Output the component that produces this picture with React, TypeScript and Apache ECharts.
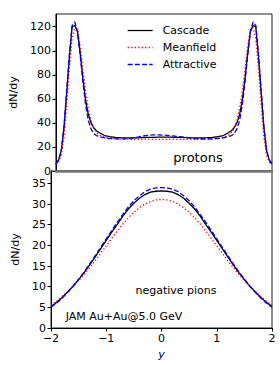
import React, { useEffect, useRef } from "react";
import * as echarts from "echarts";

const protonRapidity = [
  -2.0, -1.95, -1.9, -1.85, -1.8, -1.75, -1.7, -1.65, -1.6, -1.55, -1.5, -1.45, -1.4, -1.35, -1.3, -1.25, -1.2,
  -1.1, -1.0, -0.9, -0.8, -0.7, -0.6, -0.5, -0.4, -0.3, -0.2, -0.1,
  0,
  0.1, 0.2, 0.3, 0.4, 0.5, 0.6, 0.7, 0.8, 0.9, 1.0, 1.1,
  1.2, 1.25, 1.3, 1.35, 1.4, 1.45, 1.5, 1.55, 1.6, 1.65, 1.7, 1.75, 1.8, 1.85, 1.9, 1.95, 2.0,
];
const protonCascade = [
  6, 9, 17, 36, 65, 95, 120, 121, 116, 98, 77, 59, 47, 40, 36, 33.5, 32,
  29.5, 28.5, 28, 27.7, 27.5, 27.5, 27.6, 27.8, 28, 28, 28.1,
  28.1,
  28.1, 28, 28, 27.8, 27.6, 27.5, 27.5, 27.7, 28, 28.5, 29.5,
  32, 33.5, 36, 40, 47, 59, 77, 98, 116, 121, 120, 95, 65, 36, 17, 9, 6.5,
];
const protonMeanfield = [
  5.5, 7.5, 13, 28, 55, 85, 110, 119, 118, 104, 84, 66, 52, 42, 35.5, 32, 30,
  28, 27.2, 26.8, 26.6, 26.5, 26.4, 26.3, 26.3, 26.3, 26.3, 26.3,
  26.3,
  26.3, 26.3, 26.3, 26.3, 26.3, 26.4, 26.5, 26.6, 26.8, 27.2, 28,
  30, 32, 35.5, 42, 52, 66, 84, 104, 118, 119, 110, 85, 55, 28, 13, 7.5, 5.5,
];
const protonAttractive = [
  5.5, 9, 17, 37, 67, 97, 121, 124, 116, 96, 74, 55, 42, 35, 31, 29.5, 28.8,
  27.5, 27, 26.8, 26.7, 26.8, 27.2, 28, 29, 29.7, 30, 30,
  29.8,
  29.5, 29, 28.5, 28, 27.3, 26.8, 26.6, 26.6, 26.8, 27, 27.5,
  28.8, 29.5, 31, 35, 42, 55, 74, 96, 116, 124, 121, 97, 67, 37, 17, 9, 5.5,
];

const pionRapidity = [
  -2.0, -1.9, -1.8, -1.7, -1.6, -1.5, -1.4, -1.3, -1.2, -1.1, -1.0, -0.9, -0.8, -0.7, -0.6, -0.5, -0.4, -0.3, -0.2, -0.1,
  0,
  0.1, 0.2, 0.3, 0.4, 0.5, 0.6, 0.7, 0.8, 0.9, 1.0, 1.1, 1.2, 1.3, 1.4, 1.5, 1.6, 1.7, 1.8, 1.9, 2.0,
];
const pionCascade = [
  5.2, 6.2, 7.4, 8.7, 10.1, 11.7, 13.4, 15.3, 17.2, 19.2, 21.2, 23.2, 25.1, 27.1, 28.8, 30.2, 31.4, 32.3, 32.9, 33.1,
  33.2,
  33.1, 32.9, 32.3, 31.4, 30.2, 28.8, 27.1, 25.1, 23.2, 21.2, 19.2, 17.2, 15.3, 13.4, 11.7, 10.1, 8.7, 7.4, 6.2, 5.2,
];
const pionMeanfield = [
  5.5, 6.5, 7.6, 8.8, 10.1, 11.5, 13.0, 14.6, 16.3, 18.1, 19.9, 21.7, 23.5, 25.2, 26.7, 28.0, 29.1, 30.0, 30.6, 31.0,
  31.1,
  31.0, 30.6, 30.0, 29.1, 28.0, 26.7, 25.2, 23.5, 21.7, 19.9, 18.1, 16.3, 14.6, 13.0, 11.5, 10.1, 8.8, 7.6, 6.5, 5.5,
];
const pionAttractive = [
  5.0, 6.0, 7.2, 8.6, 10.1, 11.8, 13.6, 15.5, 17.5, 19.5, 21.6, 23.6, 25.6, 27.5, 29.3, 30.8, 32.0, 33.0, 33.6, 33.9,
  34.0,
  33.9, 33.6, 33.0, 32.0, 30.8, 29.3, 27.5, 25.6, 23.6, 21.6, 19.5, 17.5, 15.5, 13.6, 11.8, 10.1, 8.6, 7.2, 6.0, 5.0,
];

const seriesNames = ["Cascade", "Meanfield", "Attractive"];
const xTickLabels = ["\u22122", "\u22121", "0", "1", "2"];
const panelLabels = ["protons", "negative pions", "JAM Au+Au@5.0 GeV"];

const FONT = "DejaVu Sans";

const pair = (xs: number[], ys: number[]) => xs.map((x, i) => [x, ys[i]]);

export default function App() {
  const ref = useRef<HTMLDivElement>(null);
  useEffect(() => {
    if (!ref.current) return;
    const chart = echarts.init(ref.current, undefined, { renderer: "svg" });
    const styles = [
      { color: "#000000", type: "solid" as any },
      { color: "#ff0000", type: [1.3, 2.2] as any },
      { color: "#0000ff", type: [5, 2.2] as any },
    ];
    const protonData = [protonCascade, protonMeanfield, protonAttractive];
    const pionData = [pionCascade, pionMeanfield, pionAttractive];
    const series: any[] = [];
    seriesNames.forEach((name, i) => {
      series.push({
        name,
        type: "line",
        xAxisIndex: 0,
        yAxisIndex: 0,
        symbol: "none",
        data: pair(protonRapidity, protonData[i]),
        lineStyle: { color: styles[i].color, width: 1.3, type: styles[i].type },
        itemStyle: { color: styles[i].color },
        z: 2 + i,
      });
    });
    seriesNames.forEach((name, i) => {
      series.push({
        name,
        type: "line",
        xAxisIndex: 1,
        yAxisIndex: 1,
        symbol: "none",
        data: pair(pionRapidity, pionData[i]),
        lineStyle: { color: styles[i].color, width: 1.3, type: styles[i].type },
        itemStyle: { color: styles[i].color },
        z: 2 + i,
      });
    });
    const xFmt = (v: number) => xTickLabels[Math.round(v) + 2];
    const labelStyle = { color: "#000", fontSize: 11, fontFamily: FONT };
    const option: any = {
      animation: false,
      grid: [
        { left: 51, top: 14, width: 221, height: 157, show: true, borderColor: "#222", borderWidth: 1 },
        { left: 51, top: 171, width: 221, height: 157, show: true, borderColor: "#222", borderWidth: 1 },
      ],
      xAxis: [
        {
          gridIndex: 0, type: "value", min: -2, max: 2, interval: 1,
          axisLabel: { show: false }, axisTick: { show: false }, splitLine: { show: false },
          axisLine: { show: true, onZero: false, lineStyle: { color: "#777", width: 2.5 } }, z: 10,
        },
        {
          gridIndex: 1, type: "value", min: -2, max: 2, interval: 1,
          axisLabel: { ...labelStyle, formatter: xFmt, margin: 5 },
          axisTick: { length: 3.5, lineStyle: { color: "#000" } },
          axisLine: { onZero: false, lineStyle: { color: "#000", width: 1 } },
          splitLine: { show: false },
          name: "y", nameLocation: "middle", nameGap: 21,
          nameTextStyle: { ...labelStyle, fontStyle: "italic" },
        },
      ],
      yAxis: [
        {
          gridIndex: 0, type: "value", min: 0, max: 130.6, interval: 20,
          axisLabel: { ...labelStyle, margin: 5, showMaxLabel: false },
          axisTick: { length: 3.5, lineStyle: { color: "#000" } },
          axisLine: { show: true, onZero: false, lineStyle: { color: "#000", width: 1 } },
          splitLine: { show: false },
          name: "dN/dy", nameLocation: "middle", nameGap: 34, nameTextStyle: labelStyle,
        },
        {
          gridIndex: 1, type: "value", min: 0, max: 38, interval: 5,
          axisLabel: { ...labelStyle, margin: 5, showMaxLabel: false },
          axisTick: { length: 3.5, lineStyle: { color: "#000" } },
          axisLine: { show: true, onZero: false, lineStyle: { color: "#000", width: 1 } },
          splitLine: { show: false },
          name: "dN/dy", nameLocation: "middle", nameGap: 27, nameTextStyle: labelStyle,
        },
      ],
      legend: {
        data: seriesNames,
        orient: "vertical",
        left: 122,
        top: 20,
        itemWidth: 25,
        itemHeight: 10,
        itemGap: 6,
        itemStyle: { color: "transparent", borderColor: "transparent", borderWidth: 0 },
        lineStyle: { width: 1.3 },
        textStyle: { ...labelStyle, padding: [0, 0, 0, 5] },
      },
      graphic: [
        { type: "text", x: 198, y: 157, style: { text: panelLabels[0], fontSize: 13, fontFamily: FONT, fill: "#000", textAlign: "center", textVerticalAlign: "middle" } },
        { type: "text", x: 176, y: 290, style: { text: panelLabels[1], fontSize: 11, fontFamily: FONT, fill: "#000", textAlign: "center", textVerticalAlign: "middle" } },
        { type: "text", x: 124, y: 316, style: { text: panelLabels[2], fontSize: 11, fontFamily: FONT, fill: "#000", textAlign: "center", textVerticalAlign: "middle" } },
      ],
      series,
    };
    chart.setOption(option);
    return () => chart.dispose();
  }, []);
  return (
    <div
      ref={ref}
      style={{ position: "fixed", left: 0, top: 0, width: 280, height: 365, background: "#fff" }}
    />
  );
}
